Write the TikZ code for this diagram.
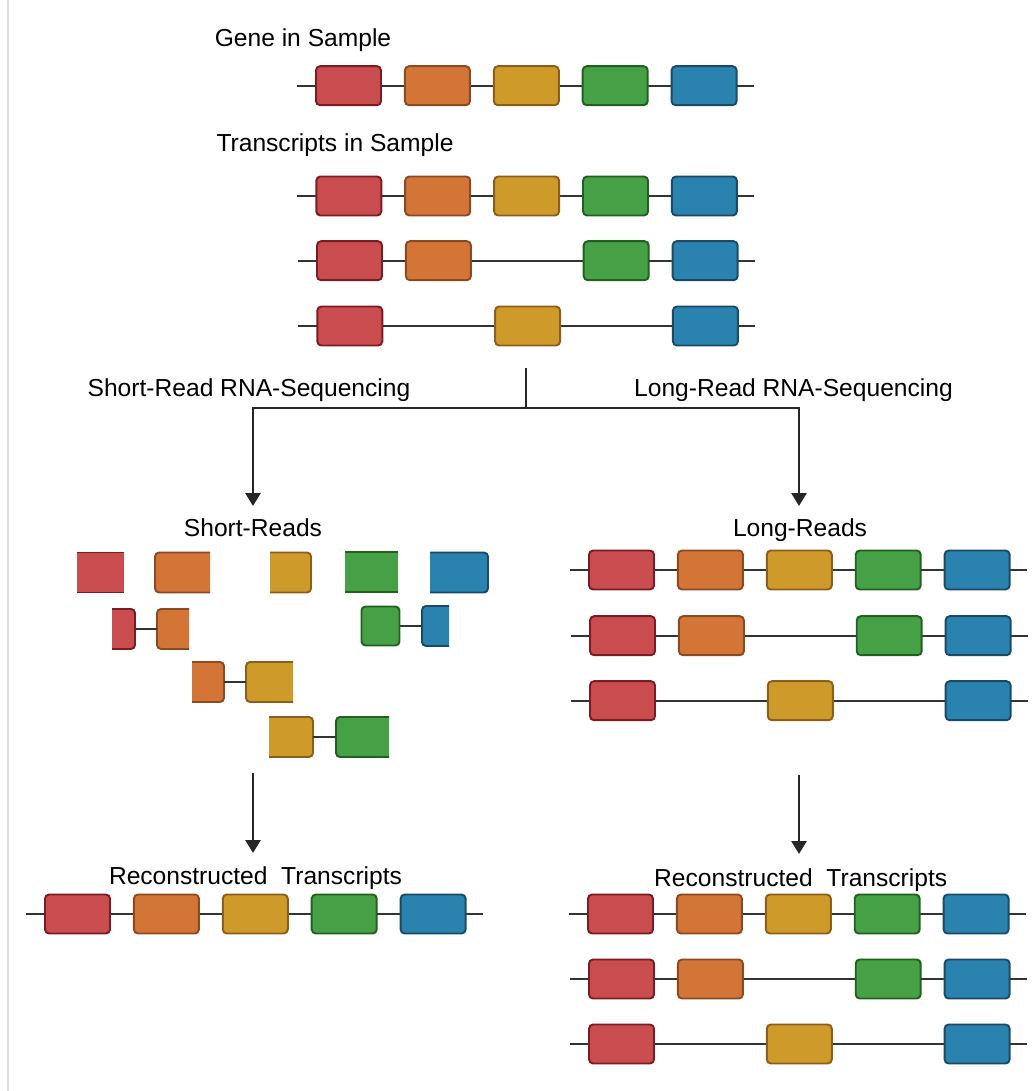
\documentclass[tikz,border=0pt]{standalone}
\usepackage{fontspec}
\setmainfont{Liberation Sans}
\usetikzlibrary{arrows.meta}

\definecolor{exfill1}{HTML}{C94C4E}
\definecolor{exline1}{HTML}{7B1C22}
\definecolor{exfill2}{HTML}{D47538}
\definecolor{exline2}{HTML}{8C4A22}
\definecolor{exfill3}{HTML}{CE9B2A}
\definecolor{exline3}{HTML}{8C5E1C}
\definecolor{exfill4}{HTML}{46A045}
\definecolor{exline4}{HTML}{22601F}
\definecolor{exfill5}{HTML}{2A83AF}
\definecolor{exline5}{HTML}{1A4A66}
\definecolor{wire}{HTML}{333333}

% one transcript: name, left end of its line, height, exons present
\newcommand{\exonrow}[4]{
  \coordinate (#1-w) at (#2,#3);
  \coordinate (#1-e) at (#2+457,#3);
  \draw[intron] (#1-w) -- (#1-e);
  \foreach \k in {#4}
    \node[exon=\k] (#1-\k) at (#2+51.5+88.9*\k-88.9,#3) {};
}
% broken exons of the short reads: colour, left x, right x, middle y, name
\newcommand{\readcut}[5]{
  \fill[exfill#1] (#2,#4-20) rectangle (#3,#4+20);
  \draw[exline#1, exonpen] (#2,#4-20) -- (#3,#4-20) (#2,#4+20) -- (#3,#4+20);
  \coordinate (#5-w) at (#2,#4);
  \coordinate (#5-e) at (#3,#4);
}
\newcommand{\readleft}[5]{
  \filldraw[fill=exfill#1, draw=exline#1, exonpen, rounded corners=2.3pt]
    (#3,#4-20) -- (#2,#4-20) -- (#2,#4+20) -- (#3,#4+20);
  \coordinate (#5-w) at (#2,#4);
  \coordinate (#5-e) at (#3,#4);
}
\newcommand{\readright}[5]{
  \filldraw[fill=exfill#1, draw=exline#1, exonpen, rounded corners=2.3pt]
    (#2,#4-20) -- (#3,#4-20) -- (#3,#4+20) -- (#2,#4+20);
  \coordinate (#5-w) at (#2,#4);
  \coordinate (#5-e) at (#3,#4);
}

\begin{document}
\begin{tikzpicture}[x=0.02cm,y=-0.02cm,
    exonpen/.style={line width=1.1pt},
    exon/.style={draw=exline#1, fill=exfill#1, exonpen, rounded corners=2.3pt,
      minimum width=1.3cm, minimum height=0.78cm, inner sep=0pt},
    intron/.style={draw=wire, line width=1.3pt},
    flow/.style={draw=black!85, line width=1.6pt},
    lbl/.style={anchor=base, inner sep=0pt, font=\fontsize{14}{17}\selectfont}]
  \useasboundingbox (0,0) rectangle (1033,1091);
  \draw[black!12, line width=0.8pt] (8,0) -- (8,1091);

  % the gene and its transcripts
  \node[lbl] (genelbl) at (303,46.7) {Gene in Sample};
  \exonrow{gene}{297}{85.7}{1,2,3,4,5}
  \node[lbl] (txlbl) at (335,151.7) {Transcripts in Sample};
  \exonrow{txa}{297.3}{196}{1,2,3,4,5}
  \exonrow{txb}{298}{260.7}{1,2,4,5}
  \exonrow{txc}{298.3}{326}{1,3,5}

  % the two ways of sequencing
  \node[lbl] (srseq) at (249,396.7) {Short-Read RNA-Sequencing};
  \node[lbl] (lrseq) at (793.5,396.7) {Long-Read RNA-Sequencing};
  \coordinate (stem) at (526,368);
  \coordinate (fork) at (526,408);
  \coordinate (srin) at (253,506);
  \coordinate (lrin) at (799,506);
  \draw[flow] (stem) -- (fork);
  \draw[flow, -{Triangle[width=0.3cm,length=0.26cm]}] (fork) -| (srin);
  \draw[flow, -{Triangle[width=0.3cm,length=0.26cm]}] (fork) -| (lrin);

  % short reads
  \node[lbl] (srlbl) at (253,536) {Short-Reads};
  \readcut{1}{77}{124}{572.5}{sa}
  \readleft{2}{155}{210}{572.5}{sb}
  \readright{3}{270}{311}{572.5}{sc}
  \readcut{4}{345}{398}{572}{sd}
  \readright{5}{430}{488}{572.5}{se}
  \readright{1}{112}{135}{629}{sf}
  \readleft{2}{157}{189}{629}{sg}
  \draw[intron] (sf-e) -- (sg-w);
  \node[exon=4, minimum width=0.76cm] (sh) at (380.5,626) {};
  \readleft{5}{422}{449}{626}{si}
  \draw[intron] (sh.east) -- (si-w);
  \readright{2}{192}{224}{682}{sj}
  \readleft{3}{246}{293}{682}{sk}
  \draw[intron] (sj-e) -- (sk-w);
  \readright{3}{269}{313}{737}{sl}
  \readleft{4}{336}{389}{737}{sm}
  \draw[intron] (sl-e) -- (sm-w);

  % long reads
  \node[lbl] (lrlbl) at (800,536.7) {Long-Reads};
  \exonrow{lra}{570}{570}{1,2,3,4,5}
  \exonrow{lrb}{571}{635.7}{1,2,4,5}
  \exonrow{lrc}{571}{700.7}{1,3,5}

  % reconstruction
  \coordinate (srout) at (253,773);
  \coordinate (srrec) at (253,853);
  \coordinate (lrout) at (799,775);
  \coordinate (lrrec) at (799,854);
  \draw[flow, -{Triangle[width=0.3cm,length=0.26cm]}] (srout) -- (srrec);
  \draw[flow, -{Triangle[width=0.3cm,length=0.26cm]}] (lrout) -- (lrrec);
  \node[lbl] (srreclbl) at (255.5,884) {Reconstructed\ \ Transcripts};
  \exonrow{rsa}{26}{914}{1,2,3,4,5}
  \node[lbl] (lrreclbl) at (800.7,886.7) {Reconstructed\ \ Transcripts};
  \exonrow{rla}{569}{914}{1,2,3,4,5}
  \exonrow{rlb}{570}{979}{1,2,4,5}
  \exonrow{rlc}{570}{1044}{1,3,5}
\end{tikzpicture}
\end{document}
